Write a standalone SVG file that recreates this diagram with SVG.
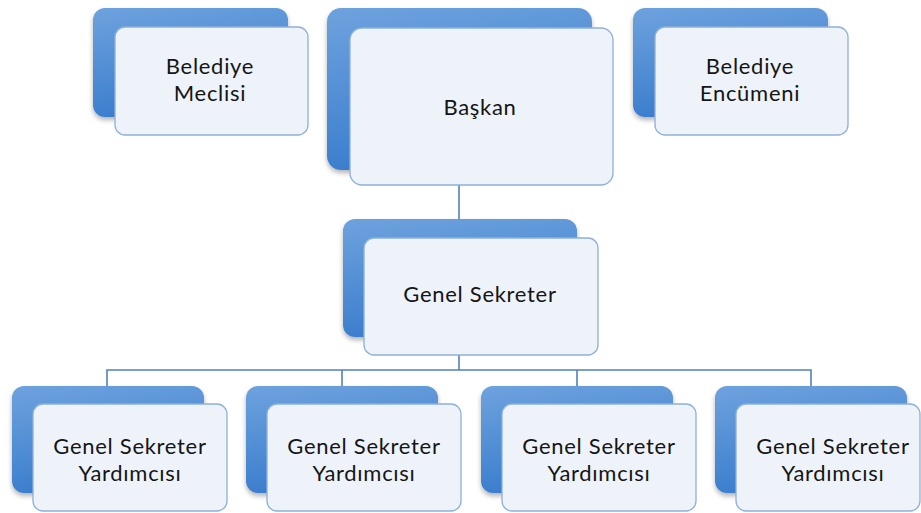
<svg xmlns="http://www.w3.org/2000/svg" width="921" height="513" viewBox="0 0 921 513">
<defs>
<linearGradient id="bg" x1="0" y1="0" x2="0.25" y2="1">
<stop offset="0" stop-color="#6ea2de"/>
<stop offset="1" stop-color="#3a7dcd"/>
</linearGradient>
<filter id="sh" x="-10%" y="-10%" width="120%" height="130%">
<feGaussianBlur in="SourceAlpha" stdDeviation="2.5"/>
<feOffset dx="0" dy="3"/>
<feComponentTransfer><feFuncA type="linear" slope="0.3"/></feComponentTransfer>
<feMerge><feMergeNode/><feMergeNode in="SourceGraphic"/></feMerge>
</filter>
</defs>
<style>
.back{fill:url(#bg);filter:url(#sh)}
.front{fill:#eef3fa;stroke:#8fb0d8;stroke-width:1.3}
.t{font-family:Lato,"Open Sans",sans-serif;font-size:22px;letter-spacing:0.7px;fill:#151515;text-anchor:middle}
.c{fill:none;stroke:#4f81bd;stroke-width:1.6}
</style>
<rect width="921" height="513" fill="#ffffff"/>
<g id="connectors">
<path class="c" d="M459 185 V220"/>
<path class="c" d="M459 355 V370"/>
<path class="c" d="M107 386 V370 H811 V386"/>
<path class="c" d="M342 370 V386"/>
<path class="c" d="M577 370 V386"/>
</g>
<g id="belediye-meclisi">
<rect class="back" x="93" y="8" width="195" height="109" rx="12"/>
<rect class="front" x="115" y="27" width="193" height="108" rx="10"/>
<text class="t" x="210" y="74">Belediye</text>
<text class="t" x="210" y="101">Meclisi</text>
</g>
<g id="baskan">
<rect class="back" x="327" y="8" width="265" height="162" rx="14"/>
<rect class="front" x="350" y="28" width="263" height="157" rx="12"/>
<text class="t" x="480" y="115">Başkan</text>
</g>
<g id="belediye-encumeni">
<rect class="back" x="633" y="8" width="195" height="109" rx="12"/>
<rect class="front" x="655" y="27" width="193" height="108" rx="10"/>
<text class="t" x="750" y="74">Belediye</text>
<text class="t" x="750" y="101">Encümeni</text>
</g>
<g id="genel-sekreter">
<rect class="back" x="343" y="219" width="234" height="118" rx="12"/>
<rect class="front" x="364" y="238" width="234" height="117" rx="10"/>
<text class="t" x="480" y="302">Genel Sekreter</text>
</g>
<g id="gsy-1">
<rect class="back" x="12" y="386" width="192" height="107" rx="12"/>
<rect class="front" x="33" y="404" width="194" height="107" rx="10"/>
<text class="t" x="130" y="454">Genel Sekreter</text>
<text class="t" x="130" y="481">Yardımcısı</text>
</g>
<g id="gsy-2">
<rect class="back" x="246" y="386" width="192" height="107" rx="12"/>
<rect class="front" x="267" y="404" width="194" height="107" rx="10"/>
<text class="t" x="364" y="454">Genel Sekreter</text>
<text class="t" x="364" y="481">Yardımcısı</text>
</g>
<g id="gsy-3">
<rect class="back" x="481" y="386" width="192" height="107" rx="12"/>
<rect class="front" x="502" y="404" width="194" height="107" rx="10"/>
<text class="t" x="599" y="454">Genel Sekreter</text>
<text class="t" x="599" y="481">Yardımcısı</text>
</g>
<g id="gsy-4">
<rect class="back" x="715" y="386" width="192" height="107" rx="12"/>
<rect class="front" x="736" y="404" width="184" height="107" rx="10"/>
<text class="t" x="833" y="454">Genel Sekreter</text>
<text class="t" x="833" y="481">Yardımcısı</text>
</g>
</svg>
